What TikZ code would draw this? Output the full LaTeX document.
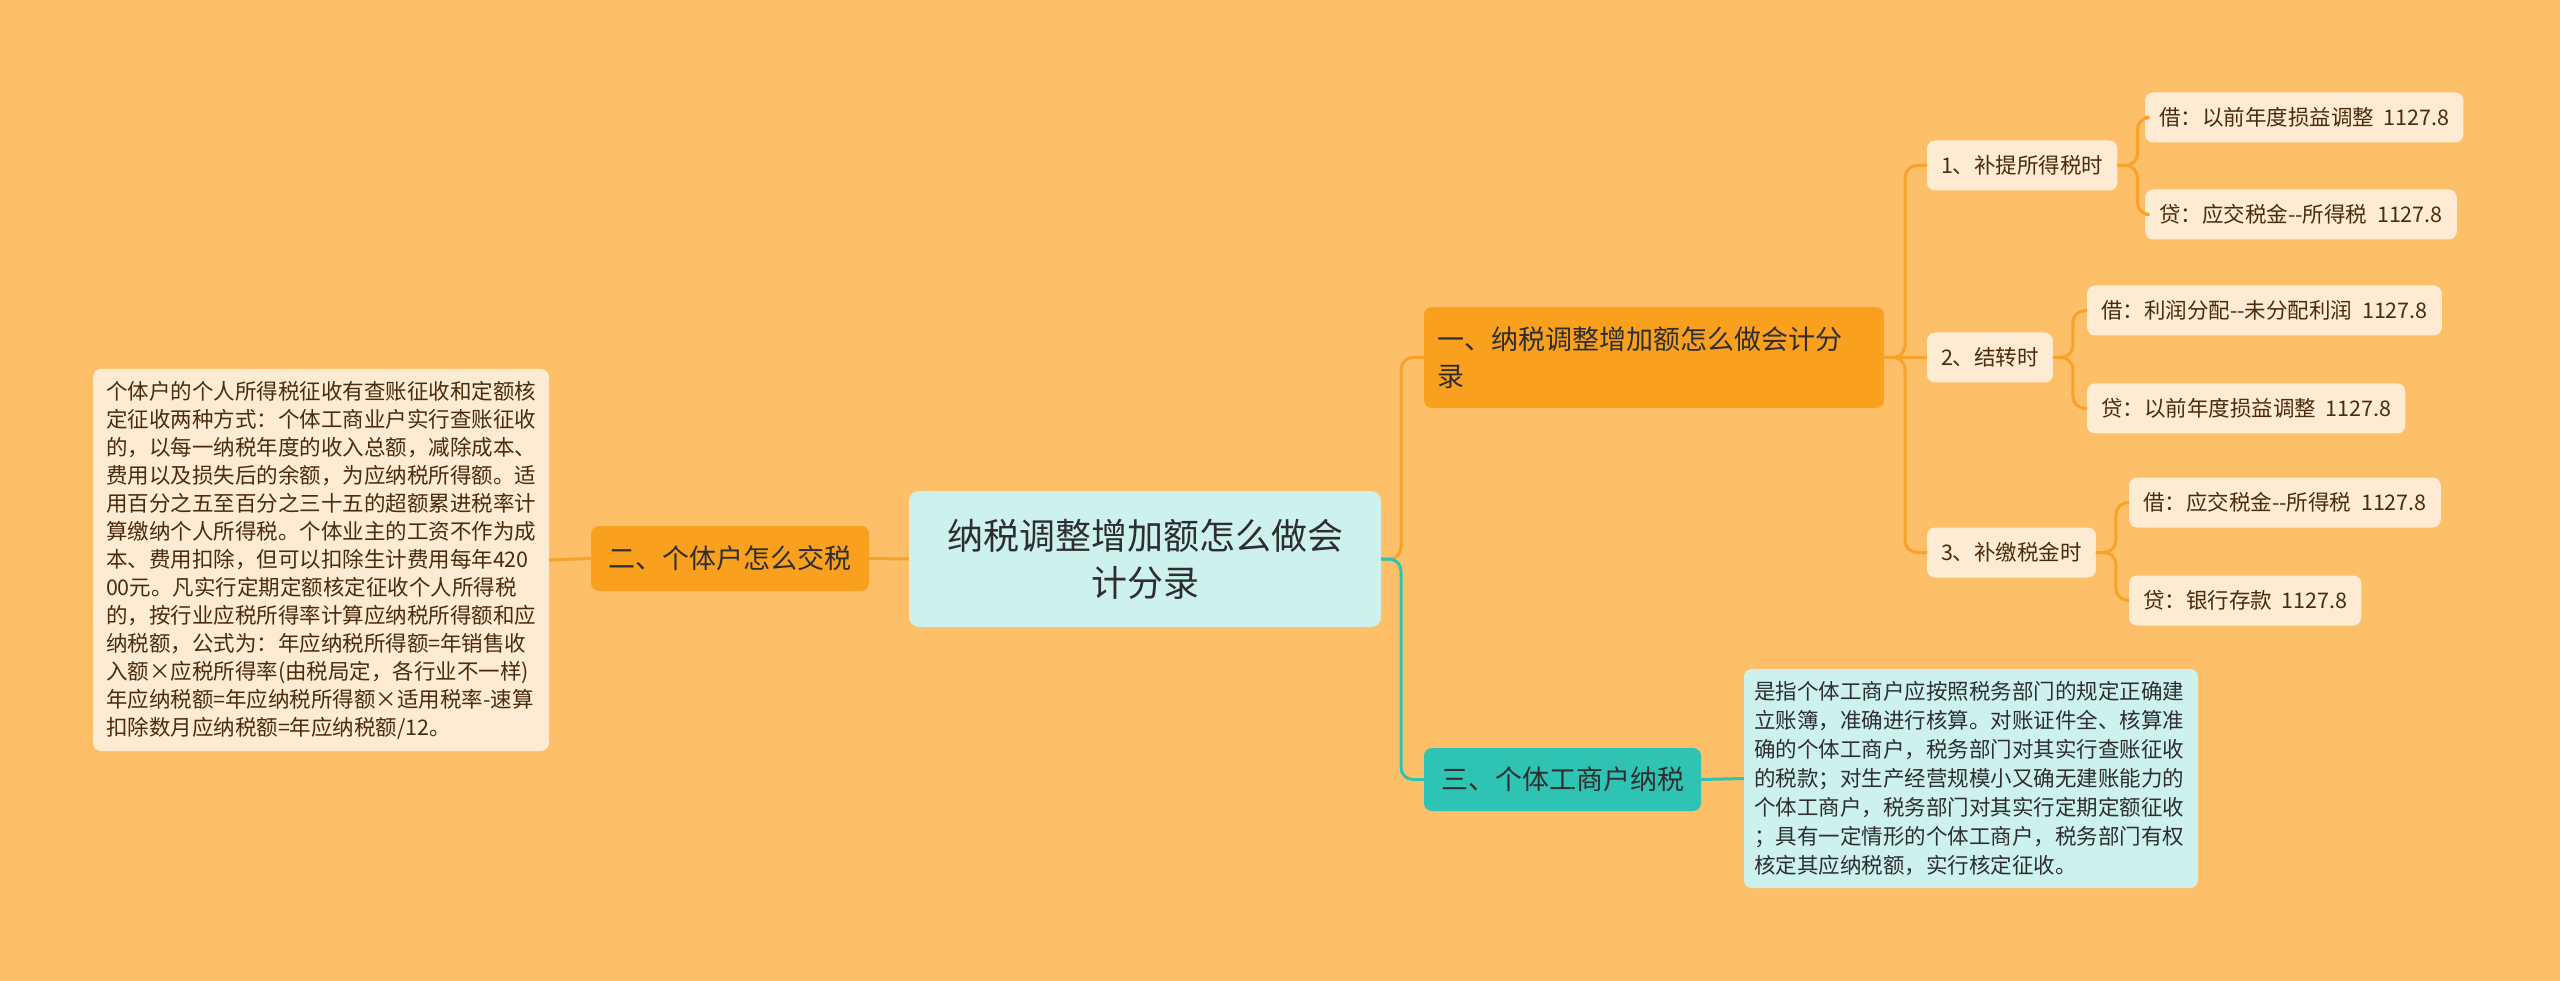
\documentclass[tikz,border=0pt]{standalone}
\usepackage{fontspec}
\setmainfont{Noto Sans CJK SC}
\definecolor{bgc}{HTML}{FEBF69}
\definecolor{orng}{HTML}{F9A11E}
\definecolor{leaf}{HTML}{FDEBD3}
\definecolor{cyanf}{HTML}{CDF2EE}
\definecolor{teal}{HTML}{2EC3B3}
\definecolor{lineo}{HTML}{F7A22A}
\definecolor{brown}{HTML}{4A2C0C}
\definecolor{darkt}{HTML}{2E2E2E}
\newcommand{\amt}{\hspace{0.45em}1127.8}
\begin{document}
\begin{tikzpicture}[x=1pt,y=-1pt,
  every node/.style={inner sep=0pt, outer sep=0pt},
  rootbox/.style={fill=cyanf, rounded corners=10pt, align=center, text=darkt,
     minimum width=472pt, minimum height=136pt, font=\fontsize{36}{47}\selectfont},
  mainbox/.style={fill=orng, rounded corners=8pt, text=darkt,
     font=\fontsize{27}{37.5}\selectfont},
  tealbox/.style={fill=teal, rounded corners=8pt, text=darkt,
     font=\fontsize{27}{37.5}\selectfont},
  notebox/.style={fill=leaf, rounded corners=8pt, align=left, text=brown,
     font=\fontsize{21.5}{28}\selectfont},
  cnote/.style={fill=cyanf, rounded corners=8pt, align=left, text=darkt,
     font=\fontsize{21.5}{28.9}\selectfont},
  leafbox/.style={fill=leaf, rounded corners=8pt, anchor=west, text=brown,
     minimum height=50pt, inner xsep=14pt, font=\fontsize{21.5}{26}\selectfont},
  oline/.style={draw=lineo, line width=3pt, rounded corners=12pt},
  tline/.style={draw=teal, line width=3pt, rounded corners=12pt}]
\fill[bgc] (0,0) rectangle (2560,981);
\useasboundingbox (0,0) rectangle (2560,981);

% nodes
\node[rootbox] (root) at (1145,559) {纳税调整增加额怎么做会\\计分录};
\node[mainbox, minimum width=278pt, minimum height=65pt] (t2) at (730,558.5) {二、个体户怎么交税};
\node[notebox, text width=430pt, inner xsep=13pt, minimum height=382pt] (ln) at (321,560) {个体户的个人所得税征收有查账征收和定额核\\定征收两种方式：个体工商业户实行查账征收\\的，以每一纳税年度的收入总额，减除成本、\\费用以及损失后的余额，为应纳税所得额。适\\用百分之五至百分之三十五的超额累进税率计\\算缴纳个人所得税。个体业主的工资不作为成\\本、费用扣除，但可以扣除生计费用每年420\\00元。凡实行定期定额核定征收个人所得税\\的，按行业应税所得率计算应纳税所得额和应\\纳税额，公式为：年应纳税所得额=年销售收\\入额×应税所得率(由税局定，各行业不一样)\\年应纳税额=年应纳税所得额×适用税率-速算\\扣除数月应纳税额=年应纳税额/12。};
\node[mainbox, align=left, text width=434pt, inner xsep=13pt, minimum height=101pt] (t1) at (1654,357.5) {一、纳税调整增加额怎么做会计分\\录};
\node[tealbox, minimum width=277pt, minimum height=63pt] (t3) at (1562.5,779.5) {三、个体工商户纳税};
\node[cnote, text width=434pt, inner xsep=10pt, minimum height=219pt] (rn) at (1971,778.5) {是指个体工商户应按照税务部门的规定正确建\\立账簿，准确进行核算。对账证件全、核算准\\确的个体工商户，税务部门对其实行查账征收\\的税款；对生产经营规模小又确无建账能力的\\个体工商户，税务部门对其实行定期定额征收\\；具有一定情形的个体工商户，税务部门有权\\核定其应纳税额，实行核定征收。};

\node[leafbox] (a) at (1927,165.5) {1、补提所得税时};
\node[leafbox] (a1) at (2145,117.5) {借：以前年度损益调整\amt};
\node[leafbox] (a2) at (2145,214.5) {贷：应交税金-{}-所得税\amt};
\node[leafbox] (b) at (1927,357.5) {2、结转时};
\node[leafbox] (b1) at (2087,310.5) {借：利润分配-{}-未分配利润\amt};
\node[leafbox] (b2) at (2087,408.5) {贷：以前年度损益调整\amt};
\node[leafbox] (c) at (1927,552.5) {3、补缴税金时};
\node[leafbox] (c1) at (2129,502.5) {借：应交税金-{}-所得税\amt};
\node[leafbox] (c2) at (2129,600.5) {贷：银行存款\amt};

% connectors
\draw[oline] (root.west) -- (t2.east);
\draw[oline] (t2.west) -- (ln.east);
\draw[oline] (root.east) -- ++(20,0) |- (t1.west);
\draw[tline] (root.east) -- ++(20,0) |- (t3.west);
\draw[tline] (t3.east) -- (rn.west);
\draw[oline] (t1.east) -- ++(21,0) |- (a.west);
\draw[oline] (t1.east) -- (b.west);
\draw[oline] (t1.east) -- ++(21,0) |- (c.west);
\draw[oline] (a.east) -- ++(20,0) |- (a1.west);
\draw[oline] (a.east) -- ++(20,0) |- (a2.west);
\draw[oline] (b.east) -- ++(20,0) |- (b1.west);
\draw[oline] (b.east) -- ++(20,0) |- (b2.west);
\draw[oline] (c.east) -- ++(20,0) |- (c1.west);
\draw[oline] (c.east) -- ++(20,0) |- (c2.west);
\end{tikzpicture}
\end{document}
